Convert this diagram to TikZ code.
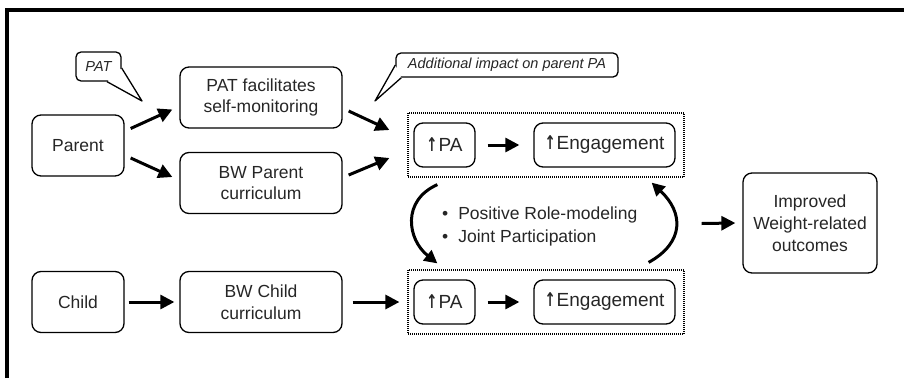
\documentclass[tikz,border=0pt]{standalone}
\usepackage{fontspec}
\setmainfont{Liberation Sans}
\newfontfamily\arrowfont{DejaVu Sans}
\newcommand\upa{\scalebox{0.7}[1.0]{\arrowfont\bfseries ↑}\kern1pt}
\usetikzlibrary{arrows.meta,calc}

\begin{document}
\begin{tikzpicture}[
  x=1pt, y=-1pt,
  font=\fontsize{17.5}{21.5}\selectfont,
  box/.style   = {draw, rounded corners=9pt, line width=1.3pt, align=center,
                  inner sep=2pt, text=black!85},
  src/.style   = {box, minimum width=92pt, minimum height=61pt},
  prog/.style  = {box, minimum width=162pt, minimum height=61pt},
  inbox/.style = {box, minimum height=44pt, font=\fontsize{19}{22}\selectfont},
  group/.style = {draw, line width=1.2pt, dash pattern=on 1pt off 1pt,
                  minimum width=276pt, minimum height=64pt},
  note/.style  = {draw, rounded corners=5pt, line width=1.3pt, fill=white,
                  text=black!85, inner sep=3pt,
                  font=\fontsize{14.5}{16}\selectfont\itshape},
  tail/.style  = {line width=1.3pt, fill=white, line join=round},
  arr/.style   = {-{Triangle[length=14pt,width=14pt]}, line width=3pt},
  looparr/.style = {-{Triangle[length=13pt,width=13pt]}, line width=3pt},
]
\useasboundingbox (0,0) rectangle (904,378);

%%────────── frame ───────────────────────────────────────────
\draw[line width=4pt] (6.5,378) -- (6.5,9.5) -- (904,9.5);

%%────────── sources and programme parts ─────────────────────
\node[src]  (parent)  at (78,145.5) {Parent};
\node[src]  (child)   at (78,302)   {Child};
\node[prog] (patfac)  at (261,97.5) {PAT facilitates\\self-monitoring};
\node[prog] (bwpar)   at (261,183)  {BW Parent\\curriculum};
\node[prog] (bwchild) at (261,302)  {BW Child\\curriculum};

%%────────── PA -> engagement, parent and child ──────────────
\node[group] (ptop) at (546,145) {};
\node[inbox, minimum width=61pt]  (papar)  at (444.5,145) {\upa PA};
\node[inbox, minimum width=141pt] (engpar) at (604.5,145) {\upa Engagement};

\node[group] (pbot) at (546,302) {};
\node[inbox, minimum width=61pt]  (pach)  at (444.5,302) {\upa PA};
\node[inbox, minimum width=141pt] (engch) at (604.5,302) {\upa Engagement};

\node[anchor=west, inner sep=0pt, align=left, text=black!85,
      font=\fontsize{17.5}{23}\selectfont] (mech) at (442,226)
  {•\hspace{10pt}Positive Role-modeling\\•\hspace{10pt}Joint Participation};

\node[box, minimum width=134pt, minimum height=100pt,
      font=\fontsize{17.5}{22}\selectfont] (improved) at (810,223)
  {Improved\\Weight-related\\outcomes};

%%────────── notes ───────────────────────────────────────────
\node[note, minimum width=45pt, minimum height=29pt] (patnote) at (98.5,66.5) {PAT};
\node[note, minimum width=222pt, minimum height=24pt] (addnote) at (507,65)
  {Additional impact on parent PA};
\coordinate (pattip) at (142,101);
\coordinate (addtip) at (375,101);
\filldraw[tail] ($(patnote.east)+(0,1.5)$) -- (pattip) -- ($(patnote.south)+(8.5,0)$);
\filldraw[tail] (addnote.west) -- (addtip) -- ($(addnote.south west)+(6,0)$);

%%────────── arrows ──────────────────────────────────────────
\draw[arr] ($(parent.east)+(6,-17)$) -- ($(patfac.west)+(-7,12)$);
\draw[arr] ($(parent.east)+(6,12.5)$) -- ($(bwpar.west)+(-7,-6)$);
\draw[arr] ($(patfac.east)+(6,13.5)$) -- ($(ptop.west)+(-18,-15)$);
\draw[arr] ($(bwpar.east)+(6,-8)$) -- ($(ptop.west)+(-18,13)$);
\draw[arr, shorten <=4pt, shorten >=5pt]  (child)   -- (bwchild);
\draw[arr, shorten <=10pt, shorten >=8pt] (bwchild) -- (pbot);
\draw[arr, shorten <=12pt, shorten >=14pt] (papar) -- (engpar);
\draw[arr, shorten <=12pt, shorten >=14pt] (pach)  -- (engch);
\draw[arr] ($(ptop.east)!.5!(pbot.east)+(17,0)$) -- ($(improved.west)+(-7,0)$);

% parent <-> child loop
\draw[looparr] ($(ptop.south west)+(30,7)$)
  .. controls +(-36,16) and +(-30,-24) .. ($(pbot.north west)+(30,-6)$);
\draw[looparr] ($(pbot.north east)+(-36,-7)$)
  .. controls +(36,-20) and +(32,30) .. ($(ptop.south east)+(-33,5)$);

\end{tikzpicture}
\end{document}
